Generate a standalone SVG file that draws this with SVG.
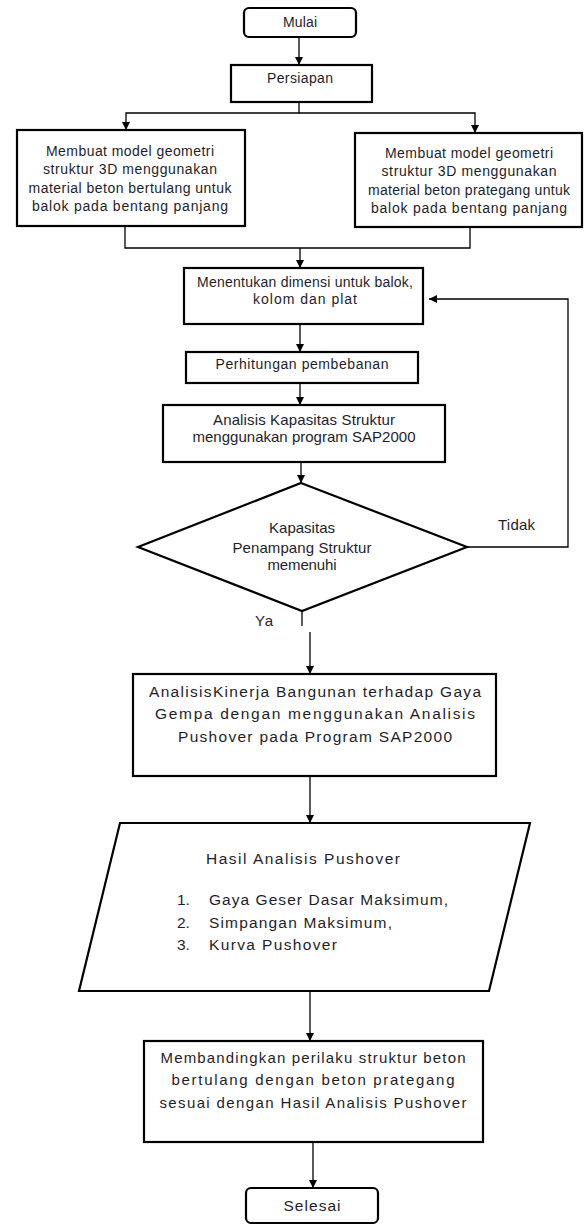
<svg xmlns="http://www.w3.org/2000/svg" width="584" height="1225" viewBox="0 0 584 1225">
<style>
.box{fill:#fff;stroke:#000;stroke-width:2.2}
.ln{fill:none;stroke:#000;stroke-width:1.3}
text{font-family:"Liberation Sans",Arial,sans-serif;font-size:14px;fill:#1e1e2a}
.c{text-anchor:middle}
.lg{font-size:15.5px}
.md{font-size:15px}
</style>
<defs>
<marker id="ah" markerUnits="userSpaceOnUse" markerWidth="8" markerHeight="8" refX="8" refY="4" orient="auto">
<path d="M0,0 L8,4 L0,8 z" fill="#000"/>
</marker>
</defs>
<rect width="584" height="1225" fill="#fff"/>
<g id="connectors">
<path class="ln" d="M299,37 V65" marker-end="url(#ah)"/>
<path class="ln" d="M299,102 V113 H126 V130" marker-end="url(#ah)"/>
<path class="ln" d="M299,113 H475 V133" marker-end="url(#ah)"/>
<path class="ln" d="M125,226 V248 H470 V227"/>
<path class="ln" d="M300,248 V268" marker-end="url(#ah)"/>
<path class="ln" d="M300,324 V352" marker-end="url(#ah)"/>
<path class="ln" d="M300,383 V405" marker-end="url(#ah)"/>
<path class="ln" d="M301,462 V483" marker-end="url(#ah)"/>
<path class="ln" d="M467,547 H568 V299 H429" marker-end="url(#ah)"/>
<path class="ln" d="M302,611 V626"/>
<path class="ln" d="M310,632 V674" marker-end="url(#ah)"/>
<path class="ln" d="M310,776 V823" marker-end="url(#ah)"/>
<path class="ln" d="M310,991 V1041" marker-end="url(#ah)"/>
<path class="ln" d="M313,1142 V1188" marker-end="url(#ah)"/>
<text class="md" x="498" y="530" textLength="37">Tidak</text>
<text class="md" x="255" y="626" textLength="18">Ya</text>
</g>
<g id="mulai">
<rect class="box" x="244" y="8" width="112" height="29" rx="5"/>
<text class="c" x="300" y="27" textLength="34">Mulai</text>
</g>
<g id="persiapan">
<rect class="box" x="231" y="65" width="141" height="37"/>
<text class="c" x="300" y="83" textLength="66">Persiapan</text>
</g>
<g id="model-bertulang">
<rect class="box" x="17" y="130" width="228" height="96"/>
<text class="c" x="130" y="156" textLength="168">Membuat model geometri</text>
<text class="c" x="130" y="174" textLength="174">struktur 3D menggunakan</text>
<text class="c" x="130" y="193" textLength="203">material beton bertulang untuk</text>
<text class="c" x="130" y="211" textLength="196">balok pada bentang panjang</text>
</g>
<g id="model-prategang">
<rect class="box" x="355" y="133" width="227" height="94"/>
<text class="c" x="469" y="158" textLength="168">Membuat model geometri</text>
<text class="c" x="469" y="176" textLength="175">struktur 3D menggunakan</text>
<text class="c" x="469" y="195" textLength="202">material beton prategang untuk</text>
<text class="c" x="469" y="213" textLength="196">balok pada bentang panjang</text>
</g>
<g id="dimensi">
<rect class="box" x="184" y="268" width="239" height="56"/>
<text class="c" x="305" y="287" textLength="216">Menentukan dimensi untuk balok,</text>
<text class="c" x="305" y="304" textLength="104">kolom dan plat</text>
</g>
<g id="pembebanan">
<rect class="box" x="186" y="352" width="232" height="31"/>
<text class="c" x="302" y="369" textLength="173">Perhitungan pembebanan</text>
</g>
<g id="analisis-kapasitas">
<rect class="box" x="163" y="405" width="282" height="57"/>
<text class="c md" x="304" y="425" textLength="182">Analisis Kapasitas Struktur</text>
<text class="c md" x="304" y="442" textLength="223">menggunakan program SAP2000</text>
</g>
<g id="keputusan">
<polygon class="box" points="301,483 467,547 302,611 138,547"/>
<text class="c md" x="302" y="533" textLength="66">Kapasitas</text>
<text class="c md" x="302" y="553" textLength="139">Penampang Struktur</text>
<text class="c md" x="302" y="570" textLength="69">memenuhi</text>
</g>
<g id="analisis-kinerja">
<rect class="box" x="133" y="674" width="363" height="102"/>
<text class="c lg" x="315" y="697" textLength="332">AnalisisKinerja Bangunan terhadap Gaya</text>
<text class="c lg" x="315" y="719" textLength="320">Gempa dengan menggunakan Analisis</text>
<text class="c lg" x="315" y="742" textLength="274">Pushover pada Program SAP2000</text>
</g>
<g id="hasil">
<polygon class="box" points="120,823 530,823 489,991 79,991"/>
<text class="lg" x="206" y="864" textLength="194">Hasil Analisis Pushover</text>
<text class="lg" x="177" y="905">1.</text>
<text class="lg" x="209" y="905" textLength="239">Gaya Geser Dasar Maksimum,</text>
<text class="lg" x="177" y="928">2.</text>
<text class="lg" x="209" y="928" textLength="183">Simpangan Maksimum,</text>
<text class="lg" x="177" y="950">3.</text>
<text class="lg" x="209" y="950" textLength="128">Kurva Pushover</text>
</g>
<g id="membandingkan">
<rect class="box" x="144" y="1041" width="339" height="101"/>
<text class="c md" x="313" y="1063" textLength="305">Membandingkan perilaku struktur beton</text>
<text class="c md" x="313" y="1085" textLength="283">bertulang dengan beton prategang</text>
<text class="c md" x="313" y="1108" textLength="307">sesuai dengan Hasil Analisis Pushover</text>
</g>
<g id="selesai">
<rect class="box" x="246" y="1188" width="132" height="35" rx="5"/>
<text class="c lg" x="312" y="1211" textLength="57">Selesai</text>
</g>
</svg>
